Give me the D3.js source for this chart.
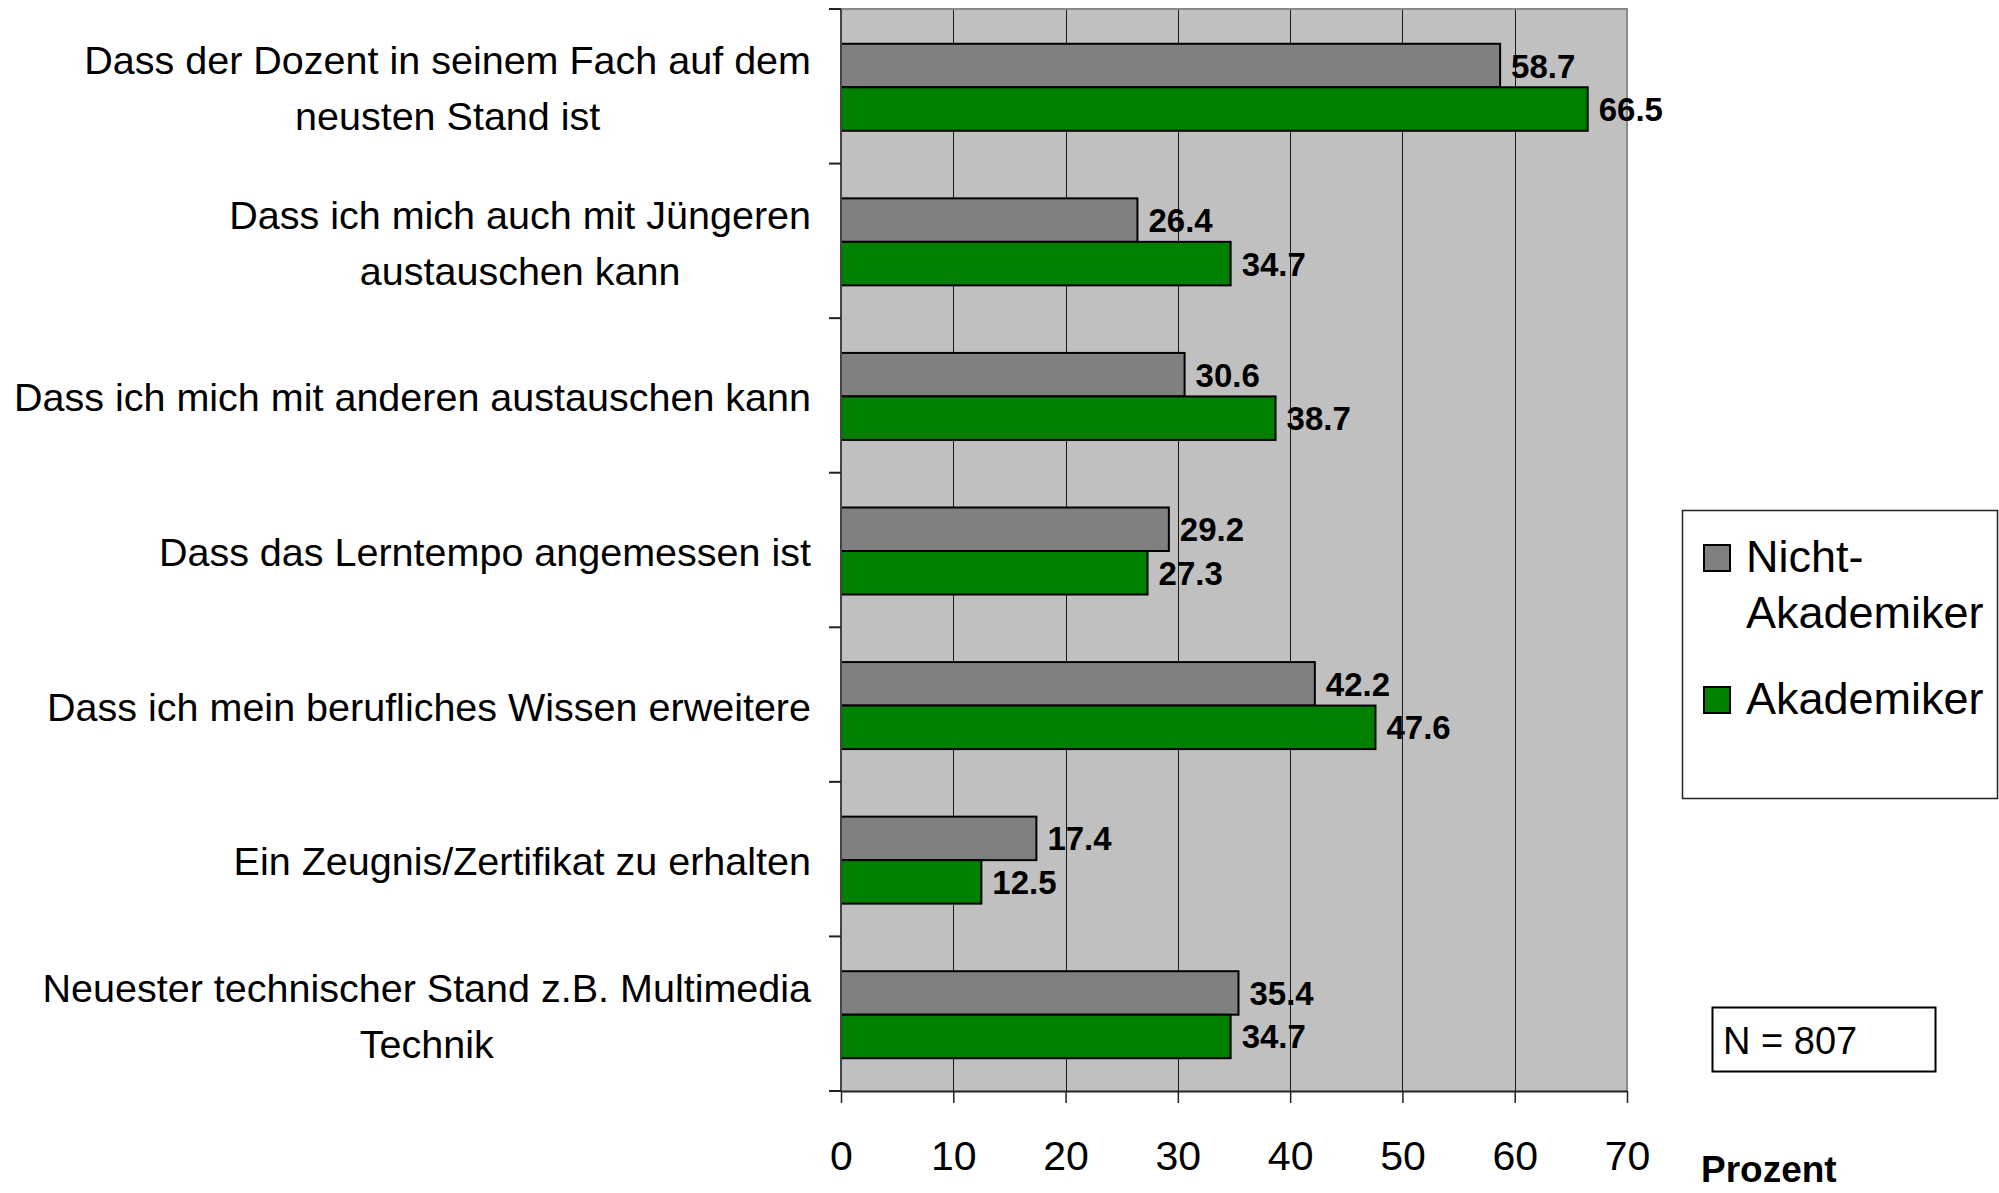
<!DOCTYPE html>
<head>
    <meta charset="utf-8">
    <style>
        body {
            margin: 0;
            background: #fff;
            font-family: "Liberation Sans", Arial, sans-serif;
        }
        .grid line { stroke: #1a1a1a; stroke-width: 1px; shape-rendering: crispEdges; }
        .bar { stroke: #000; stroke-width: 2px; }
        .val { font-weight: bold; font-size: 33px; }
        .cat { font-size: 39.5px; }
    </style>
    <script src="https://d3js.org/d3.v7.min.js"></script>
</head>
<body>
<script>
    // categories, top to bottom (line breaks as in the original)
    const categories = [
        "Dass der Dozent in seinem Fach auf dem\nneusten Stand ist",
        "Dass ich mich auch mit Jüngeren\naustauschen kann",
        "Dass ich mich mit anderen austauschen kann",
        "Dass das Lerntempo angemessen ist",
        "Dass ich mein berufliches Wissen erweitere",
        "Ein Zeugnis/Zertifikat zu erhalten",
        "Neuester technischer Stand z.B. Multimedia\nTechnik"
    ];
    const nichtAkademiker = [58.7, 26.4, 30.6, 29.2, 42.2, 17.4, 35.4];
    const akademiker      = [66.5, 34.7, 38.7, 27.3, 47.6, 12.5, 34.7];
    const xTicks = [0, 10, 20, 30, 40, 50, 60, 70];
    const seriesNames = ["Nicht-\nAkademiker", "Akademiker"];
    const seriesColors = ["#808080", "#008000"];

    const width = 1999, height = 1193;
    const plot = { left: 841, right: 1627, top: 9, bottom: 1091 };

    const svg = d3.select('body').append('svg')
        .attr('width', width)
        .attr('height', height);

    const x = d3.scaleLinear().domain([0, 70]).range([plot.left, plot.right]);
    const y = d3.scaleBand().domain(d3.range(categories.length)).range([plot.top, plot.bottom]);
    const barH = 43.5;

    // plot background
    svg.append('rect')
        .attr('x', plot.left).attr('y', plot.top)
        .attr('width', plot.right - plot.left).attr('height', plot.bottom - plot.top)
        .attr('fill', '#c0c0c0');

    // vertical gridlines
    svg.append('g').attr('class', 'grid')
        .selectAll('line').data(xTicks.slice(1, -1)).join('line')
        .attr('x1', d => Math.round(x(d)) + 0.5).attr('x2', d => Math.round(x(d)) + 0.5)
        .attr('y1', plot.top).attr('y2', plot.bottom);

    // top and right border
    svg.append('path')
        .attr('d', `M${plot.left},${plot.top}H${plot.right}V${plot.bottom}`)
        .attr('fill', 'none').attr('stroke', '#8a8a8a').attr('stroke-width', 2);

    // bars
    const rows = categories.map((c, i) => ({ i, vals: [nichtAkademiker[i], akademiker[i]] }));
    const offset = (y.bandwidth() - 2 * barH) / 2 + 1;

    const row = svg.append('g').selectAll('g').data(rows).join('g');

    row.selectAll('rect').data(d => d.vals.map((v, s) => ({ i: d.i, v, s }))).join('rect')
        .attr('class', 'bar')
        .attr('x', x(0))
        .attr('y', d => y(d.i) + offset + d.s * barH)
        .attr('width', d => x(d.v) - x(0))
        .attr('height', barH)
        .attr('fill', d => seriesColors[d.s]);

    row.selectAll('text').data(d => d.vals.map((v, s) => ({ i: d.i, v, s }))).join('text')
        .attr('class', 'val')
        .attr('x', d => x(d.v) + 11)
        .attr('y', d => y(d.i) + offset + d.s * barH + barH / 2 + 12)
        .text(d => d3.format('.1f')(d.v));

    // left axis line + category boundary ticks
    svg.append('line')
        .attr('x1', plot.left).attr('x2', plot.left)
        .attr('y1', plot.top).attr('y2', plot.bottom)
        .attr('stroke', '#444').attr('stroke-width', 2);
    const bounds = d3.range(categories.length + 1).map(i => plot.top + i * y.step());
    svg.append('g').selectAll('line').data(bounds).join('line')
        .attr('x1', plot.left - 12).attr('x2', plot.left)
        .attr('y1', d => d).attr('y2', d => d)
        .attr('stroke', '#222').attr('stroke-width', 2);

    // bottom value axis
    const xAxis = svg.append('g')
        .attr('transform', `translate(0,${plot.bottom})`)
        .call(d3.axisBottom(x).tickValues(xTicks).tickSize(12).tickPadding(38).tickSizeOuter(0));
    xAxis.select('.domain').attr('stroke', '#222').attr('stroke-width', 2);
    xAxis.selectAll('.tick line').attr('stroke', '#222').attr('stroke-width', 1.5);
    xAxis.selectAll('.tick text')
        .attr('font-family', '"Liberation Sans", Arial, sans-serif')
        .attr('font-size', 41).attr('fill', '#000').attr('dy', 0).attr('y', 79);

    // category labels: block right-aligned, lines centered within block
    const labelRight = 811, lineH = 56;
    categories.forEach((c, i) => {
        const lines = c.split('\n');
        const cy = y(i) + y.bandwidth() / 2 + 3;
        const g = svg.append('g');
        const t = g.selectAll('text').data(lines).join('text')
            .attr('class', 'cat')
            .attr('text-anchor', 'middle')
            .attr('y', (d, k) => cy + (k - (lines.length - 1) / 2) * lineH + 13)
            .text(d => d);
        const maxW = d3.max(t.nodes(), n => n.getComputedTextLength());
        t.attr('x', labelRight - maxW / 2);
    });

    // legend
    const lg = svg.append('g');
    lg.append('rect')
        .attr('x', 1682.5).attr('y', 510.5).attr('width', 315).attr('height', 288)
        .attr('fill', '#fff').attr('stroke', '#222').attr('stroke-width', 1.5);
    const legendY = [572, 714];
    seriesNames.forEach((name, s) => {
        lg.append('rect')
            .attr('x', 1704).attr('y', legendY[s] - 27).attr('width', 26).attr('height', 26)
            .attr('fill', seriesColors[s]).attr('stroke', '#000').attr('stroke-width', 2);
        name.split('\n').forEach((ln, k) => {
            lg.append('text')
                .attr('x', 1746).attr('y', legendY[s] + k * 56)
                .attr('font-size', 45)
                .text(ln);
        });
    });

    // N box
    svg.append('rect')
        .attr('x', 1712.5).attr('y', 1007.5).attr('width', 223).attr('height', 64)
        .attr('fill', '#fff').attr('stroke', '#000').attr('stroke-width', 2);
    svg.append('text')
        .attr('x', 1723).attr('y', 1054)
        .attr('font-size', 38)
        .text('N = 807');

    // axis title
    svg.append('text')
        .attr('x', 1701).attr('y', 1182)
        .attr('font-size', 37).attr('font-weight', 'bold')
        .text('Prozent');
</script>
</body>
